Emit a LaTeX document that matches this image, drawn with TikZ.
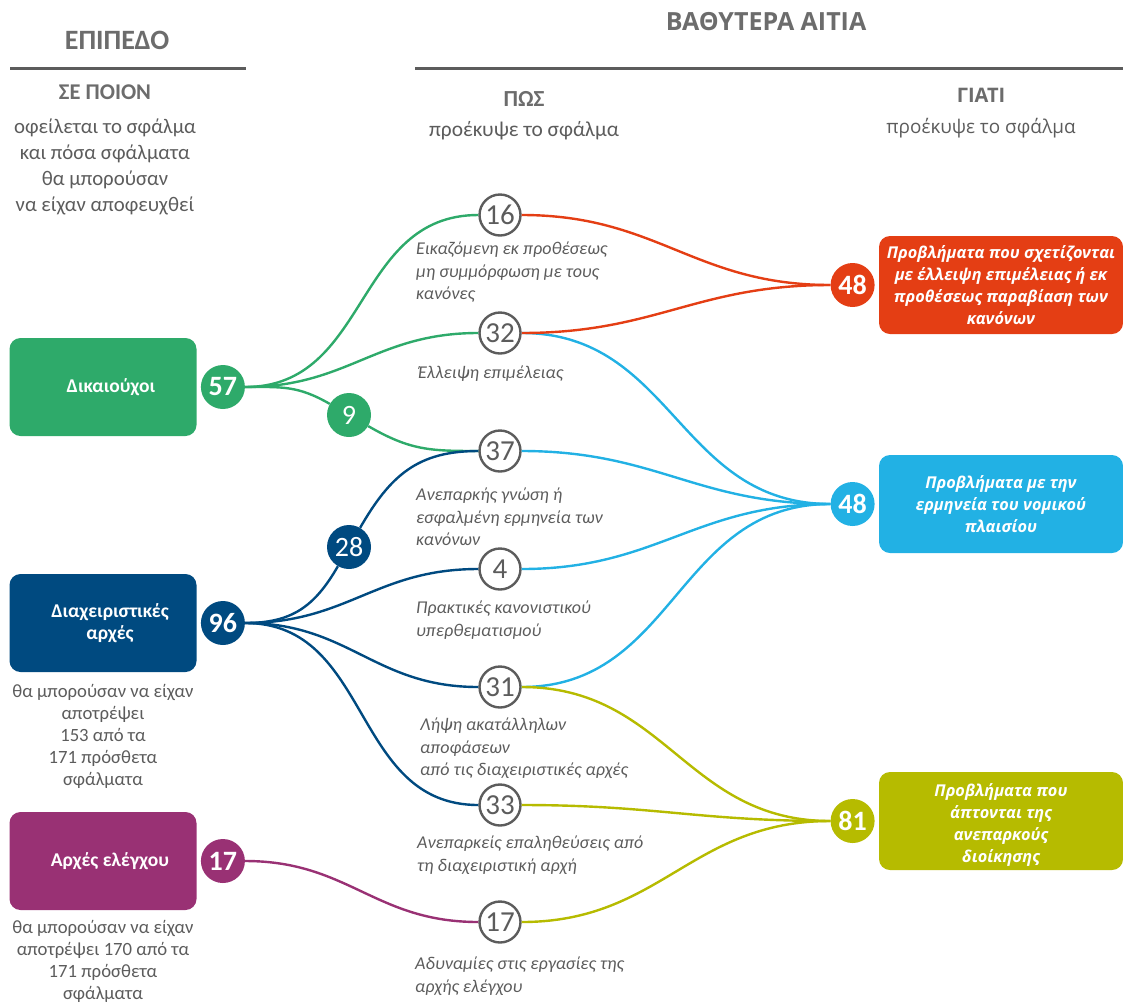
\documentclass[tikz,border=0pt]{standalone}
\usepackage{fontspec}
\setmainfont{Carlito}
\newfontfamily\opensans{Open Sans}
\usetikzlibrary{positioning}
\definecolor{verde}{HTML}{2EAA6A}
\definecolor{blu}{HTML}{004A80}
\definecolor{viola}{HTML}{993174}
\definecolor{rosso}{HTML}{E43E14}
\definecolor{azzurro}{HTML}{22B1E4}
\definecolor{oliva}{HTML}{B6BB00}
\definecolor{grigio}{HTML}{5C5C5C}
\tikzset{x=1pt, y=-1pt,
  titolo/.style={text=grigio!90, font=\fontsize{28}{32}\selectfont\bfseries},
  riga/.style={grigio, line width=3pt},
  testo/.style={text=grigio, align=center, anchor=north, inner sep=0pt},
  livello/.style={rectangle, rounded corners=11pt, minimum width=187pt, minimum height=98pt},
  etichetta/.style={text=white, align=center, font=\fontsize{19.5}{22}\selectfont\bfseries},
  problema/.style={rectangle, rounded corners=11pt, minimum width=244pt, minimum height=98pt, text=white, align=center, font=\opensans\fontsize{16.3}{22}\selectfont\bfseries\itshape},
  contatore/.style={circle, minimum size=44pt, inner sep=0pt, text=white, font=\fontsize{28}{28}\selectfont\bfseries},
  nodo/.style={circle, draw=grigio, line width=2.4pt, fill=white, minimum size=41pt, inner sep=0pt, text=grigio, font=\fontsize{29}{29}\selectfont},
  causa/.style={text=grigio, align=left, anchor=north west, inner sep=0pt, font=\fontsize{18}{22.5}\selectfont\itshape},
  flusso/.style={line width=2.4pt, out=0, in=180, looseness=1.1}}

\begin{document}
\begin{tikzpicture}
    \useasboundingbox (0,0) rectangle (1123,1002);
    \node[titolo] (epipedo) at (117,40) {ΕΠΙΠΕΔΟ};
    \node[titolo, font=\opensans\fontsize{25}{28}\selectfont\bfseries] (aitia) at (766,22) {ΒΑΘΥΤΕΡΑ ΑΙΤΙΑ};
    \draw[riga] (10,68) -- (246,68);
    \draw[riga] (415,68) -- (1123,68);

    \node[titolo, font=\fontsize{22.5}{26}\selectfont\bfseries] (sepoion) at (105,92) {ΣΕ ΠΟΙΟΝ};
    \node[testo, font=\fontsize{20.8}{26}\selectfont] (sepoiontesto) at (105,119) {οφείλεται το σφάλμα\\και πόσα σφάλματα\\θα μπορούσαν\\να είχαν αποφευχθεί};
    \node[titolo, font=\fontsize{23}{26}\selectfont\bfseries] (pos) at (524,99) {ΠΩΣ};
    \node[testo, font=\fontsize{21.4}{26}\selectfont] (postesto) at (524,121) {προέκυψε το σφάλμα};
    \node[titolo, font=\opensans\fontsize{20}{24}\selectfont\bfseries] (giati) at (981,95) {ΓΙΑΤΙ};
    \node[testo, font=\opensans\fontsize{18.9}{24}\selectfont] (giatitesto) at (981,118) {προέκυψε το σφάλμα};

    \node[livello, fill=verde] (dikaiouchoi) at (103,387) {};
    \node[livello, fill=blu] (diacheirisi) at (103,623) {};
    \node[livello, fill=viola] (elegchos) at (103,861) {};
    \node[etichetta] (dikaiouchoitesto) at ([xshift=8pt]dikaiouchoi.center) {Δικαιούχοι};
    \node[etichetta] (diacheirisitesto) at ([xshift=7pt]diacheirisi.center) {Διαχειριστικές\\αρχές};
    \node[etichetta] (elegchostesto) at ([xshift=7pt]elegchos.center) {Αρχές ελέγχου};
    \node[contatore, fill=verde, right=4pt of dikaiouchoi] (n57) {57};
    \node[contatore, fill=blu, right=4pt of diacheirisi] (n96) {96};
    \node[contatore, fill=viola, right=4pt of elegchos] (n17a) {17};
    \node[testo, font=\fontsize{18.7}{22}\selectfont] (nota96) at (103,684) {θα μπορούσαν να είχαν\\αποτρέψει\\153 από τα\\171 πρόσθετα\\σφάλματα};
    \node[testo, font=\fontsize{18.7}{22}\selectfont] (nota17) at (103,920) {θα μπορούσαν να είχαν\\αποτρέψει 170 από τα\\171 πρόσθετα\\σφάλματα};

    \node[contatore, fill=verde, font=\fontsize{28}{28}\selectfont] (n9) at (349,415) {9};
    \node[contatore, fill=blu, font=\fontsize{28}{28}\selectfont] (n28) at (349,547) {28};

    \node[nodo] (n16) at (500,215) {16};
    \node[nodo] (n32) at (500,333) {32};
    \node[nodo] (n37) at (500,451) {37};
    \node[nodo] (n4) at (500,569) {4};
    \node[nodo] (n31) at (500,687) {31};
    \node[nodo] (n33) at (500,805) {33};
    \node[nodo] (n17b) at (500,922) {17};

    \node[causa] (c16) at (416,242) {Εικαζόμενη εκ προθέσεως\\μη συμμόρφωση με τους\\κανόνες};
    \node[causa] (c32) at (418,366) {Έλλειψη επιμέλειας};
    \node[causa] (c37) at (416,488) {Ανεπαρκής γνώση ή\\εσφαλμένη ερμηνεία των\\κανόνων};
    \node[causa] (c4) at (416,601) {Πρακτικές κανονιστικού\\υπερθεματισμού};
    \node[causa] (c31) at (420,718) {Λήψη ακατάλληλων\\αποφάσεων\\από τις διαχειριστικές αρχές};
    \node[causa] (c33) at (417,836) {Ανεπαρκείς επαληθεύσεις από\\τη διαχειριστική αρχή};
    \node[causa] (c17) at (415,957) {Αδυναμίες στις εργασίες της\\αρχής ελέγχου};

    \node[problema, fill=rosso] (ekprothesews) at (1001,285) {Προβλήματα που σχετίζονται\\με έλλειψη επιμέλειας ή εκ\\προθέσεως παραβίαση των\\κανόνων};
    \node[problema, fill=azzurro] (ermineia) at (1001,504) {Προβλήματα με την\\ερμηνεία του νομικού\\πλαισίου};
    \node[problema, fill=oliva] (dioikisi) at (1001,821) {};
    \node[problema, fill=none] (dioikisitesto) at (1001,825) {Προβλήματα που\\άπτονται της\\ανεπαρκούς\\διοίκησης};
    \node[contatore, fill=rosso, left=4pt of ekprothesews] (n48a) {48};
    \node[contatore, fill=azzurro, left=4pt of ermineia] (n48b) {48};
    \node[contatore, fill=oliva, left=4pt of dioikisi] (n81) {81};

    \draw[flusso, verde] (n57) edge (n16) edge (n32) edge[in=150] (n9)
        (n9) edge[out=-30] (n37);
    \draw[flusso, blu] (n96) edge[in=240] (n28) edge (n4) edge (n31) edge (n33)
        (n28) edge[out=60] (n37);
    \draw[flusso, viola] (n17a) to (n17b);
    \draw[flusso, azzurro] (n32) edge (n48b) (n37) edge (n48b) (n4) edge (n48b) (n31) edge (n48b);
    \draw[flusso, rosso] (n16) edge (n48a) (n32) edge (n48a);
    \draw[flusso, oliva] (n31) edge (n81) (n33) edge (n81) (n17b) edge (n81);
\end{tikzpicture}
\end{document}
